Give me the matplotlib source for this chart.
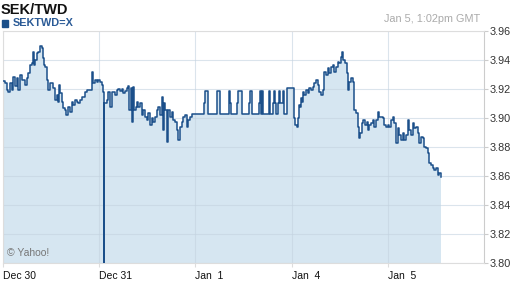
import matplotlib.pyplot as plt
import numpy as np

plt.rcParams['font.family'] = ['Liberation Sans', 'DejaVu Sans']

# hours since Dec 30 00:00 (trading days only) and SEK/TWD quote
hours = [0, 0.5, 1, 1.25, 1.75, 2.25, 2.5, 3, 3.5, 3.75, 4.25, 4.75, 5.5, 6, 6.25, 6.75,
         7.25, 7.5, 7.75, 8, 8.5, 8.75, 9.25, 9.75, 10, 10.25, 10.5, 11, 11.25, 11.75,
         12.25, 12.5, 13, 13.5, 13.75, 14, 14.25, 14.75, 15, 15.5, 15.75, 16.25, 16.75,
         17.25, 17.5, 18, 18.5, 18.75, 19.25, 19.75, 20, 20.5, 21, 21.75, 22.25, 22.5,
         23, 23.5, 23.75, 24.25, 24.75, 25, 25.25, 25.28, 26, 26.25, 26.75, 27.25, 27.5,
         28, 28.5, 28.75, 29.25, 29.75, 30, 30.5, 31, 31.25, 31.5, 32, 32.1, 32.25, 32.5,
         32.6, 32.75, 33.25, 33.5, 33.75, 34.25, 34.75, 35, 35.5, 36, 36.25, 36.75, 37.25,
         37.5, 38, 38.5, 38.75, 39.25, 39.75, 40, 40.1, 40.5, 41, 41.25, 41.75, 42.25,
         42.5, 43, 43.5, 43.75, 44.25, 44.75, 45, 45.5, 46, 46.25, 46.75, 47.25,
         50.25, 50.5, 51.1, 53.5, 54.1, 56.5, 56.75, 57, 58.5, 58.75, 59.6, 61.25, 61.5,
         62.1, 63.75, 64, 64.25, 64.5, 64.75, 66.25, 66.5, 67.25, 67.5, 67.75, 68, 68.5,
         68.75, 69, 69.5, 69.75, 70, 70.75,
         72.5, 72.75, 73.25, 73.5, 73.75, 74, 74.25, 74.5, 74.75, 75, 75.5, 76, 76.25,
         76.75, 77.25, 77.5, 78, 78.5, 78.75, 79.25, 79.75, 80, 80.5, 81, 81.25, 81.75,
         82.25, 82.5, 83, 83.5, 83.75, 84.25, 84.5, 84.75, 85.25, 85.75, 86, 86.25, 86.75,
         87.25, 87.5, 87.6, 88, 88.5, 88.75, 89, 89.5, 89.75, 90.25, 90.75, 91, 91.25,
         91.75, 92.25, 92.5, 93, 93.5, 93.75, 94.25, 94.75, 95, 95.5, 96, 96.25, 96.75,
         97.25, 97.5, 98, 98.5, 98.75, 99.25, 99.75, 100, 100.5, 101, 101.25, 101.75,
         102.25, 102.5, 103, 103.5, 103.75, 104.25, 104.75, 105, 105.5, 106, 106.25,
         106.75, 107.25, 107.5, 108, 108.5, 108.75, 109.25]
rate = [3.9255, 3.9241, 3.9193, 3.9179, 3.9241, 3.9193, 3.9283, 3.9221, 3.9276, 3.9193,
        3.9296, 3.9262, 3.9227, 3.9276, 3.9310, 3.9365, 3.9379, 3.9455, 3.9365, 3.9400,
        3.9448, 3.9455, 3.9497, 3.9483, 3.9414, 3.9365, 3.9352, 3.9262, 3.9193, 3.9241,
        3.9241, 3.9207, 3.9124, 3.9158, 3.9110, 3.9227, 3.9172, 3.9110, 3.9069, 3.9055,
        3.9021, 3.9076, 3.9041, 3.9110, 3.9089, 3.9124, 3.9110, 3.9103, 3.9124, 3.9145,
        3.9145, 3.9179, 3.9193, 3.9193, 3.9317, 3.9241, 3.9262, 3.9248, 3.9262, 3.9248,
        3.9227, 3.9179, 3.7900, 3.9103, 3.9124, 3.9179, 3.9076, 3.9179, 3.9179, 3.9158,
        3.9193, 3.9200, 3.9186, 3.9200, 3.9172, 3.9186, 3.9207, 3.9221, 3.9055, 3.9207,
        3.9041, 3.8972, 3.9214, 3.9055, 3.9055, 3.9076, 3.9110, 3.9076, 3.9103, 3.9021,
        3.9055, 3.9007, 3.8986, 3.9034, 3.8951, 3.9000, 3.8972, 3.9007, 3.9055, 3.9076,
        3.9021, 3.9145, 3.8917, 3.9103, 3.9055, 3.8834, 3.9055, 3.9007, 3.9041, 3.8986,
        3.8972, 3.8917, 3.8848, 3.8938, 3.8972, 3.9007, 3.9021, 3.8938, 3.8986, 3.9007,
        3.9027,
        3.9103, 3.9186, 3.9027, 3.9186, 3.9027, 3.9186, 3.9103, 3.9027, 3.9103, 3.9186,
        3.9027, 3.9103, 3.9186, 3.9027, 3.9103, 3.9186, 3.9027, 3.9186, 3.9027, 3.9186,
        3.9027, 3.9103, 3.9186, 3.9103, 3.9027, 3.9103, 3.9186, 3.9103, 3.9103, 3.9186,
        3.9027, 3.9207,
        3.9000, 3.8951, 3.8938, 3.9000, 3.9089, 3.9076, 3.9138, 3.9110, 3.9179, 3.9158,
        3.9193, 3.9172, 3.9207, 3.9193, 3.9214, 3.9241, 3.9262, 3.9227, 3.9179, 3.9158,
        3.9193, 3.9317, 3.9296, 3.9345, 3.9310, 3.9352, 3.9365, 3.9317, 3.9352, 3.9386,
        3.9379, 3.9421, 3.9455, 3.9400, 3.9379, 3.9310, 3.9193, 3.9248, 3.9276, 3.9248,
        3.9124, 3.9055, 3.9034, 3.8938, 3.8862, 3.8896, 3.8965, 3.8986, 3.8951, 3.8972,
        3.8917, 3.8951, 3.8965, 3.8986, 3.8938, 3.8986, 3.9041, 3.9007, 3.9007, 3.9000,
        3.8951, 3.8938, 3.8951, 3.8938, 3.8986, 3.9007, 3.8965, 3.8827, 3.8931, 3.8882,
        3.8848, 3.8896, 3.8848, 3.8882, 3.8986, 3.8917, 3.8882, 3.8965, 3.8931, 3.8938,
        3.8896, 3.8827, 3.8869, 3.8862, 3.8800, 3.8793, 3.8758, 3.8689, 3.8675, 3.8655,
        3.8641, 3.8655, 3.8606, 3.8620, 3.8593]

day_labels = ['Dec 30', 'Dec 31', 'Jan  1', 'Jan  4', 'Jan  5']
y_ticks = [3.80, 3.82, 3.84, 3.86, 3.88, 3.90, 3.92, 3.94, 3.96]

days = np.array(hours) / 24.0
rate = np.array(rate)

line_c = '#1b4f8a'
fill_c = '#d6e6f1'

fig = plt.figure(figsize=(5.12, 2.88), dpi=100)
ax = fig.add_axes([3/512, 25/288, 481/512, 232/288])

ax.fill_between(days, rate, 3.79, step='post', color=fill_c, lw=0, zorder=1)
for yv in y_ticks:
    ax.axhline(yv, color='#c4d3e0', lw=0.8, alpha=0.6, zorder=1.5)
for d in range(len(day_labels)):
    ax.axvline(d, color='#c4d3e0', lw=0.8, alpha=0.6, zorder=1.5)
ax.plot(days, rate, drawstyle='steps-post', color=line_c, lw=1.1, zorder=3)

ax.set_xlim(0, 5)
ax.set_ylim(3.80, 3.96)

ax.yaxis.tick_right()
ax.set_yticks(y_ticks)
ax.set_yticklabels(['%.2f' % v for v in y_ticks], fontsize=7.8, color='#333333')
ax.tick_params(axis='y', length=3, width=0.8, color='#cccccc', pad=1)
ax.set_xticks(range(len(day_labels)))
ax.set_xticklabels(day_labels, fontsize=7.5, ha='left', color='#111111')
ax.tick_params(axis='x', length=3, width=0.8, color='#dddddd', pad=3)
for s in ax.spines.values():
    s.set_color('#dddddd')
    s.set_linewidth(0.8)
ax.spines['right'].set_color('#cccccc')

ax.text(0.008, 0.03, '\u00a9 Yahoo!', transform=ax.transAxes, fontsize=7.5,
        color='#777777', zorder=4)

fig.text(1/512, 1 - 10/288, 'SEK/TWD', fontsize=10.5, fontweight='bold',
         color='#111111', va='center')
fig.patches.append(plt.Rectangle((2/512, 1 - 27/288), 6/512, 7/288,
                                 transform=fig.transFigure, color=line_c))
fig.text(13/512, 1 - 23.5/288, 'SEKTWD=X', fontsize=7.8, fontweight='bold',
         color='#2a5a96', va='center')
fig.text(480/512, 1 - 19/288, 'Jan 5, 1:02pm GMT', fontsize=7.8, color='#aaaaaa',
         ha='right', va='center')

fig.savefig('out.png', dpi=100)
